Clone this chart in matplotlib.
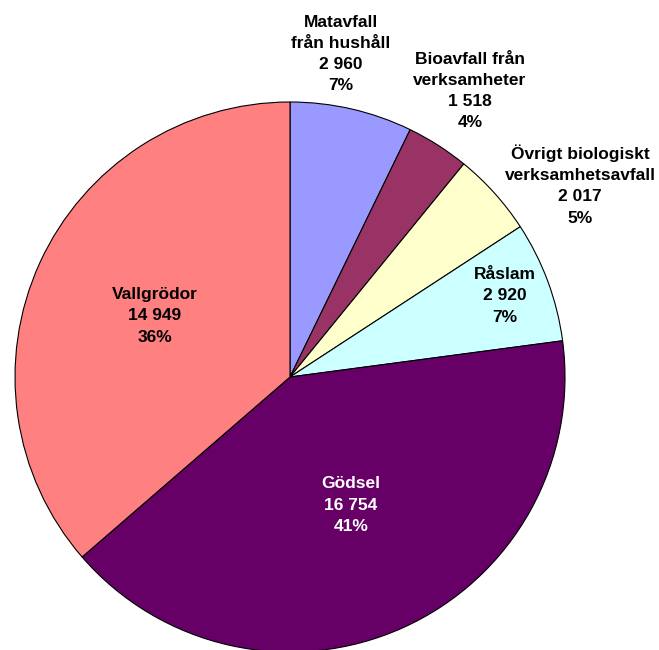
import matplotlib
matplotlib.use('Agg')
import matplotlib.pyplot as plt

categories = ['Matavfall\nfrån hushåll', 'Bioavfall från\nverksamheter',
              'Övrigt biologiskt\nverksamhetsavfall', 'Råslam', 'Gödsel', 'Vallgrödor']
values = [2960, 1518, 2017, 2920, 16754, 14949]
colors = ['#9999FF', '#993366', '#FFFFCC', '#CCFFFF', '#660066', '#FF8080']
# label centres in pixel coords (x, y from top)
label_pos = [(341, 54), (470, 91), (580, 185), (505, 296), (351, 505), (155, 316)]
text_colors = ['black', 'black', 'black', 'black', 'white', 'black']

W, H = 659, 650
fig = plt.figure(figsize=(W / 100, H / 100), dpi=100)
ax = fig.add_axes([0, 0, 1, 1])
ax.set_xlim(0, W)
ax.set_ylim(0, H)
ax.set_aspect('equal')
ax.axis('off')

ax.pie(values, colors=colors, startangle=90, counterclock=False,
       center=(290, H - 377), radius=275,
       wedgeprops=dict(edgecolor='black', linewidth=0.8))
ax.set_xlim(0, W)
ax.set_ylim(0, H)

total = sum(values)
for name, v, (x, y), tc in zip(categories, values, label_pos, text_colors):
    num = f'{v:,}'.replace(',', ' ')
    pct = f'{round(100 * v / total)}%'
    ax.text(x, H - y, f'{name}\n{num}\n{pct}', ha='center', va='center',
            fontsize=12.5, fontweight='bold', family='Liberation Sans',
            color=tc, linespacing=1.52)

fig.savefig('out.png', dpi=100)
